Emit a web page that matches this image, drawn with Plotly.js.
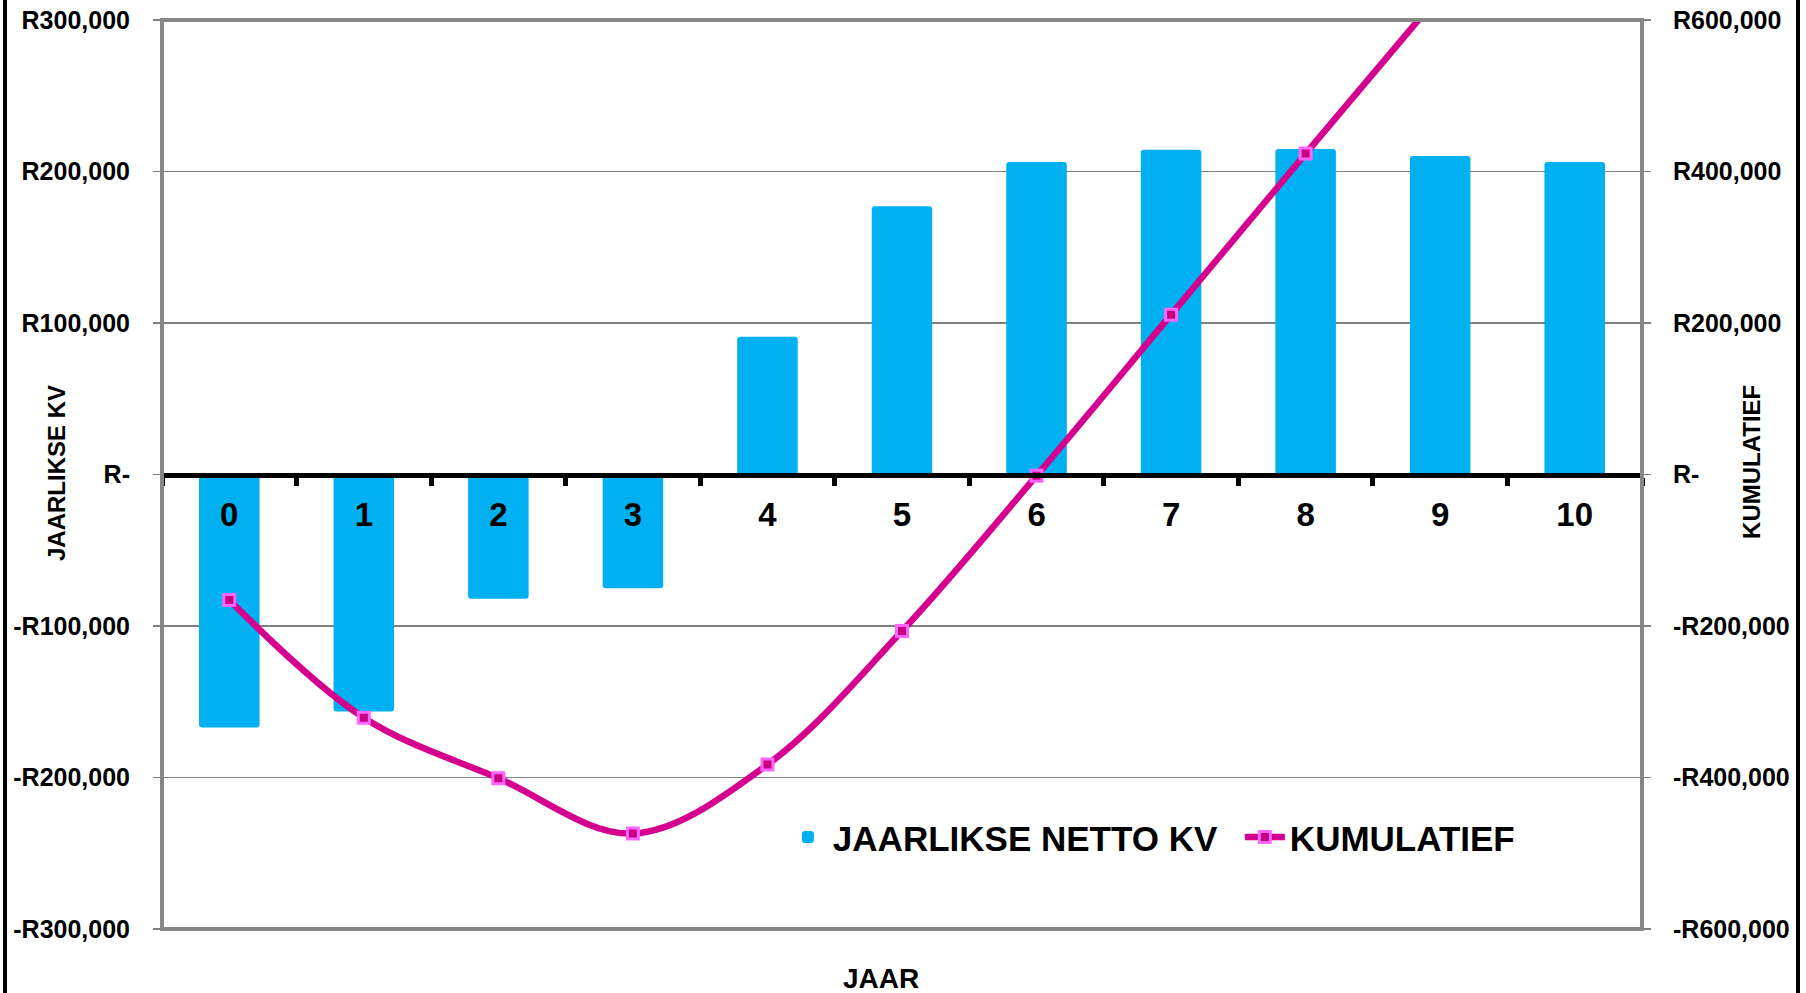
<!DOCTYPE html>
<html>
<head>
<meta charset="utf-8">
<script src="https://cdn.plot.ly/plotly-3.0.1.min.js"></script>
<style>
  html, body { margin: 0; padding: 0; background: #fff; }
  #wrap { position: relative; width: 1806px; height: 993px; overflow: hidden; }
  #chart { width: 1806px; height: 993px; }
  .edge { position: absolute; top: 0; width: 4px; height: 993px; background: #000; }
</style>
</head>
<body>
<div id="wrap">
  <div id="chart"></div>
  <div class="edge" style="left:3px"></div>
  <div class="edge" style="left:1796px"></div>
</div>
<script>
// ---- data ----
const years = ["0", "1", "2", "3", "4", "5", "6", "7", "8", "9", "10"];
const annualNet = [-167000, -156500, -82000, -75000, 91000, 177000, 206300, 214300, 214900, 210300, 206300];
const cumulative = [-165700, -321000, -401000, -474000, -383000, -206700, -1500, 211000, 423700, 634000, 840000];

const leftTickVals = [-300000, -200000, -100000, 0, 100000, 200000, 300000];
const leftTickText = ["-R300,000", "-R200,000", "-R100,000", "R-", "R100,000", "R200,000", "R300,000"];
const rightTickVals = [-600000, -400000, -200000, 0, 200000, 400000, 600000];
const rightTickText = ["-R600,000", "-R400,000", "-R200,000", "R-", "R200,000", "R400,000", "R600,000"];

const barName = "JAARLIKSE NETTO KV";
const lineName = "KUMULATIEF";
const xTitle = "JAAR";
const yTitle = "JAARLIKSE KV";
const y2Title = "KUMULATIEF";

// ---- chart ----
const FONT = "Liberation Sans, Arial, Helvetica, sans-serif";

const traces = [
  {
    type: "bar",
    name: barName,
    x: years,
    y: annualNet,
    yaxis: "y",
    marker: { color: "#00B0F0", cornerradius: 3 },
    hoverinfo: "x+y"
  },
  {
    type: "scatter",
    mode: "lines+markers",
    name: lineName,
    x: years,
    y: cumulative,
    yaxis: "y2",
    line: { color: "#D6008F", width: 6.5, shape: "spline", smoothing: 1 },
    marker: { symbol: "square", size: 11, color: "#C8007F", line: { color: "#FF66FF", width: 3 } }
  }
];

const layout = {
  width: 1806,
  height: 993,
  margin: { l: 162, r: 164, t: 20, b: 64 },
  paper_bgcolor: "#ffffff",
  plot_bgcolor: "#ffffff",
  font: { family: FONT, color: "#000", weight: 700 },
  bargap: 0.55,
  showlegend: true,
  legend: {
    orientation: "h",
    x: 0.4195, y: 0.101,
    xanchor: "left", yanchor: "middle",
    font: { family: FONT, size: 35, weight: 700, color: "#000" },
    bgcolor: "rgba(0,0,0,0)",
    itemwidth: 40,
    entrywidth: 402,
    entrywidthmode: "pixels"
  },
  xaxis: {
    type: "category",
    range: [-0.5, 10.5],
    anchor: "free",
    position: 0.5,
    side: "bottom",
    showline: true,
    linecolor: "#000",
    linewidth: 5,
    ticks: "outside",
    tickson: "boundaries",
    ticklen: 8,
    tickwidth: 5,
    tickcolor: "#000",
    showgrid: false,
    zeroline: false,
    tickfont: { family: FONT, size: 33, weight: 700, color: "#000" },
    ticklabelstandoff: 9
  },
  yaxis: {
    range: [-300000, 300000],
    tickmode: "array",
    tickvals: leftTickVals,
    ticktext: leftTickText,
    showgrid: true,
    gridcolor: "#808080",
    gridwidth: 1.3,
    zeroline: false,
    showline: false,
    ticks: "outside",
    ticklen: 8,
    tickwidth: 1.5,
    tickcolor: "#808080",
    tickfont: { family: FONT, size: 25, weight: 700, color: "#000" },
    ticklabelstandoff: 18
  },
  yaxis2: {
    overlaying: "y",
    side: "right",
    range: [-600000, 600000],
    tickmode: "array",
    tickvals: rightTickVals,
    ticktext: rightTickText,
    showgrid: false,
    zeroline: false,
    showline: false,
    ticks: "outside",
    ticklen: 8,
    tickwidth: 1.5,
    tickcolor: "#808080",
    tickfont: { family: FONT, size: 25, weight: 700, color: "#000" },
    ticklabelstandoff: 17
  },
  shapes: [
    {
      type: "rect", xref: "paper", yref: "paper",
      x0: 0, x1: 1, y0: 0, y1: 1,
      line: { color: "#878787", width: 4 },
      fillcolor: "rgba(0,0,0,0)",
      layer: "above"
    }
  ],
  annotations: [
    {
      text: xTitle, xref: "paper", yref: "paper",
      x: 0.4858, y: -0.055, xanchor: "center", yanchor: "middle",
      showarrow: false,
      font: { family: FONT, size: 28, weight: 700, color: "#000" }
    },
    {
      text: yTitle, xref: "paper", yref: "paper",
      x: -0.0709, y: 0.5017, xanchor: "center", yanchor: "middle",
      textangle: -90, showarrow: false,
      font: { family: FONT, size: 24, weight: 700, color: "#000" }
    },
    {
      text: y2Title, xref: "paper", yref: "paper",
      x: 1.0743, y: 0.5138, xanchor: "center", yanchor: "middle",
      textangle: -90, showarrow: false,
      font: { family: FONT, size: 24, weight: 700, color: "#000" }
    }
  ]
};

Plotly.newPlot("chart", traces, layout, { staticPlot: true, displayModeBar: false });
</script>
</body>
</html>
